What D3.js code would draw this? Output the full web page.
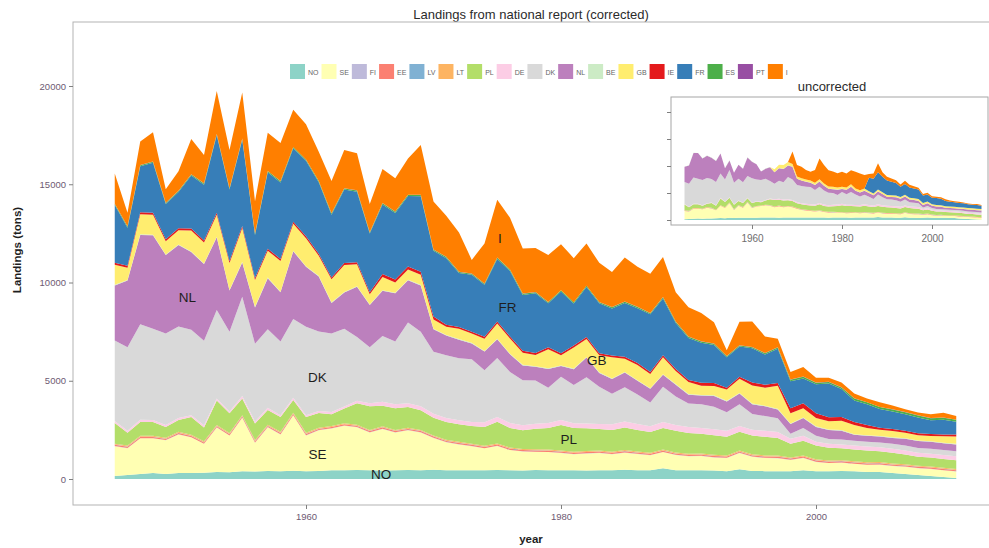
<!DOCTYPE html>
<html><head><meta charset="utf-8">
<script src="https://cdn.jsdelivr.net/npm/d3@7/dist/d3.min.js"></script>
<style>body{margin:0;background:#fff}svg{display:block;font-family:"Liberation Sans",Arial,sans-serif}</style>
</head><body><svg id="c" width="989" height="548"></svg>
<script>
// ---------- DATA ----------
const years = d3.range(1945, 2012);
const countries = ["NO","SE","FI","EE","LV","LT","PL","DE","DK","NL","BE","GB","IE","FR","ES","PT","I"];
const colors = ["#8DD3C7","#FFFFB3","#BEBADA","#FB8072","#80B1D3","#FDB462","#B3DE69","#FCCDE5","#D9D9D9","#BC80BD","#CCEBC5","#FFED6F","#E41A1C","#377EB8","#4DAF4A","#984EA3","#FF7F00"];

// corrected landings (tons), 1945..2011
const NO = [150,200,250,300,250,300,300,320,350,340, 400,380,410,400,420,400,410,450,440,460, 450,430,450,460,450,470,450,440,450,440, 460,450,430,460,450,450,440,430,450,440, 470,450,440,550,450,440,450,430,400,500, 410,400,390,400,450,400,390,410,400,350, 350,300,250,200,150,100,50];
const SE = [1520,1370,1820,1770,1720,1970,1820,1470,2270,1870, 2720,1470,2220,1870,2820,1820,2070,2120,2270,2170, 1920,2120,1920,2020,1920,1620,1420,1320,1220,1120, 1220,1020,970,920,920,870,820,870,870,820, 870,820,770,820,770,720,720,670,670,820, 720,670,670,570,620,470,420,420,370,370, 380,360,370,350,360,340,330];
const FI = [10,10,10,10,10,10,10,10,10,10, 10,10,10,10,10,10,10,10,10,10, 10,10,10,10,10,10,10,10,10,10, 10,10,10,10,10,10,10,10,10,10, 10,10,10,10,10,10,10,10,10,10, 10,10,10,10,10,10,10,10,10,10, 10,10,10,10,10,10,10];
const EE = [60,60,60,60,60,60,60,60,60,60, 60,60,60,60,60,60,60,60,60,60, 60,60,60,60,60,60,60,60,60,60, 60,60,60,60,60,60,60,60,60,60, 60,60,60,60,60,60,60,60,60,60, 60,60,60,60,60,60,60,60,60,60, 60,60,60,60,60,60,60];
const LV = [10,10,10,10,10,10,10,10,10,10, 10,10,10,10,10,10,10,10,10,10, 10,10,10,10,10,10,10,10,10,10, 10,10,10,10,10,10,10,10,10,10, 10,10,10,10,10,10,10,10,10,10, 10,10,10,10,10,10,10,10,10,10, 10,10,10,10,10,10,10];
const LT = [50,50,50,50,50,50,50,50,50,50, 50,50,50,50,50,50,50,50,50,50, 50,50,50,50,50,50,50,50,50,50, 50,50,50,50,50,50,50,50,50,50, 50,50,50,50,50,50,50,50,50,50, 50,50,50,50,50,50,50,50,50,50, 50,50,50,50,50,50,50];
const PL = [1050,650,700,700,550,600,900,700,1250,1000, 850,850,750,750,650,800,750,600,750,1100, 1200,1050,1100,1050,1000,900,900,900,900,950, 1100,1000,950,1050,1100,1300,1200,1150,1100,1100, 1150,1100,1050,1100,1100,1050,1000,1000,950,950, 950,950,900,700,750,700,650,600,600,600, 550,550,500,450,450,450,450];
const DE = [100,100,120,100,100,110,100,120,100,100, 120,100,110,100,120,100,100,110,100,120, 150,200,200,200,200,200,200,200,200,250, 250,250,250,250,250,250,250,250,250,300, 300,300,300,300,300,300,300,300,300,300, 300,300,300,250,250,200,200,200,200,200, 200,200,200,200,200,200,200];
const DK = [4100,4250,4850,4650,4650,4650,4350,4300,4500,4050, 5050,3950,4000,3750,4000,4500,4050,4000,3950,3250, 2850,3350,3200,4100,3800,3150,3200,3150,3200,2650, 3000,2600,2300,2200,1800,2200,1950,2350,1900,1550, 1750,1500,1200,1800,1450,1200,1200,1150,950,1100, 800,750,700,250,400,300,250,250,250,250, 250,250,250,250,250,250,250];
const NL = [2800,3400,4550,4750,4000,4150,3950,3900,3700,2100, 1750,1850,2600,2500,3450,3050,2800,1550,1850,2550, 2150,2300,2450,2150,2350,1150,1000,950,800,950, 950,900,750,700,950,550,800,1000,700,750, 750,700,700,600,600,450,450,550,550,550, 500,500,450,500,500,450,450,450,300,300, 300,300,350,350,350,350,350];
const BE = [30,30,30,30,30,30,30,30,30,30, 30,30,30,30,30,30,30,30,30,30, 30,30,30,30,30,30,30,30,30,30, 30,30,30,30,30,30,30,30,30,30, 30,30,30,30,30,30,30,30,30,30, 30,30,30,30,30,30,30,30,30,30, 30,30,30,30,30,30,30];
const GB = [1020,620,1020,1020,670,720,1070,1070,1120,1370, 1720,1370,1370,1570,1370,1420,1020,1170,1370,1120, 520,670,520,520,520,470,420,520,470,620, 770,770,620,570,970,520,1070,920,870,1070, 670,770,720,870,670,620,470,470,570,720, 920,920,1170,520,470,420,420,470,470,370, 320,320,270,270,270,320,370];
const IE = [100,100,100,100,100,100,100,100,100,100, 100,100,100,100,100,100,100,100,100,100, 100,150,150,150,150,150,100,100,100,100, 100,100,100,100,100,100,100,100,100,100, 100,100,100,100,100,100,150,150,100,100, 150,150,150,250,250,250,200,200,150,150, 100,100,100,100,100,100,100];
const FR = [2940,1940,2340,2540,1790,1840,2690,2840,3940,3640, 4390,2190,3890,3890,3740,3840,3640,3190,3740,3590, 2990,3540,3390,3590,3840,3340,3390,2740,2890,2640, 3190,3340,2840,3040,2240,3140,2140,2540,2540,2390, 2740,2790,2940,2890,2340,2140,2040,1940,1540,1540, 1740,1540,1740,1370,1270,1470,1720,1420,1100,1050, 950,900,850,800,700,750,650];
const ES = [60,60,60,60,60,60,60,60,60,60, 60,60,60,60,60,60,60,60,60,60, 60,60,60,60,60,60,60,60,60,60, 60,60,60,60,60,60,60,60,60,60, 60,60,60,60,60,60,60,60,60,60, 60,60,60,80,80,80,80,80,100,100, 100,100,100,100,100,100,100];
const PT = [10,10,10,10,10,10,10,10,10,10, 10,10,10,10,10,10,10,10,10,10, 10,10,10,10,10,10,10,10,10,10, 10,10,10,10,10,10,10,10,10,10, 10,10,10,10,10,10,10,10,10,10, 10,10,10,10,10,10,10,10,10,10, 10,10,10,10,10,10,10];
const I = [1540,690,1190,1490,690,990,1790,1440,2190,1940, 2340,1640,1940,1940,1890,1790,1490,1640,1940,1890, 1440,1740,1690,1840,2540,2440,2090,1990,690,2040, 2940,2640,2290,2240,2390,2340,2240,2140,1990,1790, 2240,2040,1990,2040,1490,1490,1440,1090,290,1190, 1290,840,440,390,490,240,200,240,240,190, 240,190,140,140,190,240,190];

// uncorrected series that differ (inset)
const GB_unc = [0,0,0,0,0,0,0,0,0,0, 0,0,0,0,0,0,0,0,0,0, 500,600,700,600,500,400,400,400,400,400, 400,400,400,400,400,400,400,400,400,400, 400,300,300,300,300,300,300,300,300,300, 300,300,300,300,300,250,250,250,250,250, 250,250,250,250,250,250,250];
const FR_unc = [0,0,0,0,0,0,0,0,0,0, 0,0,0,0,0,0,0,0,0,0, 0,0,0,0,0,0,0,0,0,0, 0,0,0,0,0,0,0,0,0,0, 0,2500,2700,3200,2900,2700,2500,2300,1900,2000, 1900,1800,1800,1400,1300,1200,1300,1200,1000,900, 850,800,750,700,650,700,600];
const I_unc = [0,0,0,0,0,0,0,0,0,0, 0,0,0,0,0,0,0,0,0,0, 0,0,0,0,2300,2150,2140,1730,1620,2325, 3870,3400,3025,2820,2610,2770,2610,2625,3120,3110, 2500,700,1000,1700,800,700,600,500,400,600, 500,400,300,300,300,250,250,250,300,250, 200,200,150,150,150,150,150];

const yTicks = [0, 5000, 10000, 15000, 20000];
const xTicks = [1960, 1980, 2000];
const areaLabels = [
  {text:"NL", year:1950.7, value:9250},
  {text:"DK", year:1960.9, value:5190},
  {text:"SE", year:1960.9, value:1260},
  {text:"NO", year:1965.9, value:250},
  {text:"FR", year:1975.8, value:8750},
  {text:"GB", year:1982.8, value:6050},
  {text:"PL", year:1980.6, value:2030},
  {text:"I",  year:1975.2, value:12260}
];

// ---------- BUILD TABLES ----------
const corrected = {NO,SE,FI,EE,LV,LT,PL,DE,DK,NL,BE,GB,IE,FR,ES,PT,I};
const uncorrected = {NO,SE,FI,EE,LV,LT,PL,DE,DK,NL,BE,GB:GB_unc,FR:FR_unc,I:I_unc};
const insetKeys = ["NO","SE","FI","EE","LV","LT","PL","DE","DK","NL","BE","GB","FR","I"];
const colorOf = d3.scaleOrdinal().domain(countries).range(colors);
function table(src, keys){
  return years.map((yr,i)=>{const r={year:yr}; keys.forEach(k=>r[k]=src[k][i]); return r;});
}
const mainRows = table(corrected, countries);
const insetRows = table(uncorrected, insetKeys);

// ---------- DRAW ----------
const svg = d3.select("#c");
const W = 989, H = 548;
const panel = {l:73, t:22, r:992, b:505};

const x = d3.scaleLinear().domain([1960,2000]).range([306,816]);
const y = d3.scaleLinear().domain([0,20000]).range([479,86]);

svg.append("rect").attr("width",W).attr("height",H).attr("fill","#fff");

// title
svg.append("text").attr("x",531).attr("y",19).attr("text-anchor","middle")
  .attr("font-size",13).attr("fill","#2b2b2b").text("Landings from national report (corrected)");

// panel
svg.append("rect").attr("x",panel.l).attr("y",panel.t).attr("width",panel.r-panel.l).attr("height",panel.b-panel.t)
  .attr("fill","#fff").attr("stroke","#b3b3b3").attr("stroke-width",1);

const stackMain = d3.stack().keys(countries)(mainRows);
const area = d3.area().x(d=>x(d.data.year)).y0(d=>y(d[0])).y1(d=>y(d[1]));
svg.append("g").selectAll("path").data(stackMain).join("path")
  .attr("d",area).attr("fill",d=>colorOf(d.key));

// direct labels
svg.append("g").selectAll("text").data(areaLabels).join("text")
  .attr("x",d=>x(d.year)).attr("y",d=>y(d.value)).attr("dy","0.35em")
  .attr("text-anchor","middle").attr("font-size",13.5).attr("fill","#1e1e1e").text(d=>d.text);

// axes
const yAxis = svg.append("g").attr("transform",`translate(${panel.l},0)`)
  .call(d3.axisLeft(y).tickValues(yTicks).tickSize(4).tickPadding(3).tickFormat(d3.format("d")));
const xAxis = svg.append("g").attr("transform",`translate(0,${panel.b})`)
  .call(d3.axisBottom(x).tickValues(xTicks).tickSize(4).tickPadding(4).tickFormat(d3.format("d")));
[yAxis,xAxis].forEach(g=>{
  g.select(".domain").remove();
  g.selectAll(".tick line").attr("stroke","#7f7f7f");
  g.selectAll(".tick text").attr("fill","#6e5a72").attr("font-size",9.5).attr("font-family","Liberation Sans, Arial, sans-serif");
});

svg.append("text").attr("transform","translate(21,250) rotate(-90)").attr("text-anchor","middle")
  .attr("font-size",11.5).attr("font-weight","bold").attr("fill","#1e1e1e").text("Landings (tons)");
svg.append("text").attr("x",531).attr("y",543).attr("text-anchor","middle")
  .attr("font-size",11.5).attr("font-weight","bold").attr("fill","#1e1e1e").text("year");

// legend
const lg = svg.append("g");
let lx = 290;
countries.forEach(k=>{
  lg.append("rect").attr("x",lx).attr("y",64).attr("width",15).attr("height",15).attr("fill",colorOf(k));
  const t = lg.append("text").attr("x",lx+18).attr("y",74.5).attr("font-size",7).attr("fill","#666").text(k);
  const w = t.node().getComputedTextLength();
  lx += 18 + w + 3;
});

// ---------- INSET ----------
const ip = {l:671, t:97, r:988, b:225};
const xi = d3.scaleLinear().domain([1960,2000]).range([752,932]);
const yi = d3.scaleLinear().domain([0,20000]).range([220,112]);
svg.append("text").attr("x",832).attr("y",91).attr("text-anchor","middle")
  .attr("font-size",13).attr("fill","#2b2b2b").text("uncorrected");
svg.append("rect").attr("x",ip.l).attr("y",ip.t).attr("width",ip.r-ip.l).attr("height",ip.b-ip.t)
  .attr("fill","#fff").attr("stroke","#a6a6a6").attr("stroke-width",1);
const stackInset = d3.stack().keys(insetKeys)(insetRows);
const areaI = d3.area().x(d=>xi(d.data.year)).y0(d=>yi(d[0])).y1(d=>yi(d[1]));
svg.append("g").selectAll("path").data(stackInset).join("path")
  .attr("d",areaI).attr("fill",d=>colorOf(d.key));
const yiAxis = svg.append("g").attr("transform",`translate(${ip.l},0)`)
  .call(d3.axisLeft(yi).tickValues(yTicks).tickSize(4).tickFormat(""));
const xiAxis = svg.append("g").attr("transform",`translate(0,${ip.b})`)
  .call(d3.axisBottom(xi).tickValues(xTicks).tickSize(4).tickPadding(6).tickFormat(d3.format("d")));
[yiAxis,xiAxis].forEach(g=>{
  g.select(".domain").remove();
  g.selectAll(".tick line").attr("stroke","#7f7f7f");
  g.selectAll(".tick text").attr("fill","#6e6e6e").attr("font-size",10).attr("font-family","Liberation Sans, Arial, sans-serif");
});
</script></body></html>
